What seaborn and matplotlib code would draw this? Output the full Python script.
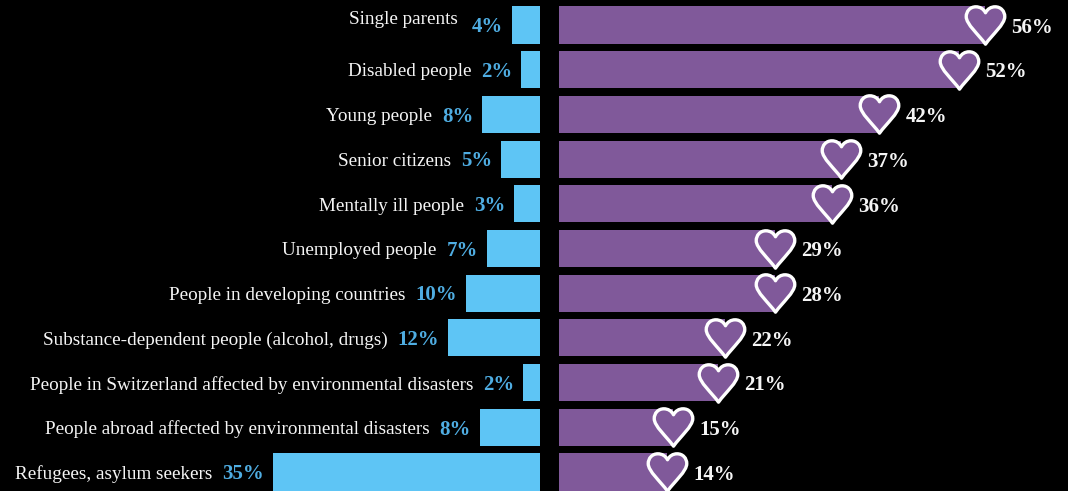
import matplotlib
matplotlib.use("Agg")
import matplotlib.pyplot as plt
from matplotlib.path import Path
import seaborn as sns

categories = ["Single parents", "Disabled people", "Young people", "Senior citizens",
              "Mentally ill people", "Unemployed people", "People in developing countries",
              "Substance-dependent people (alcohol, drugs)",
              "People in Switzerland affected by environmental disasters",
              "People abroad affected by environmental disasters",
              "Refugees, asylum seekers"]
left_labels = ["4%", "2%", "8%", "5%", "3%", "7%", "10%", "12%", "2%", "8%", "35%"]
right_labels = ["56%", "52%", "42%", "37%", "36%", "29%", "28%", "22%", "21%", "15%", "14%"]
# bar lengths as measured on the picture (the drawing is not strictly to scale)
left_values = [3.7, 2.5, 7.6, 5.1, 3.4, 7.0, 9.7, 12.1, 2.2, 7.9, 35.1]
right_values = [56.0, 52.6, 42.1, 37.1, 35.9, 28.4, 28.4, 21.8, 20.9, 15.0, 14.2]

BLUE, BLUE_TEXT, PURPLE, WHITE = "#5EC5F5", "#4FADE2", "#80599A", "#F5F5F5"
SERIF = "Liberation Serif"
W, H = 1068, 491
PX = 7.6          # pixels per percentage point
PITCH, FIRST = 44.7, 25.0

sns.set_theme(style="dark", rc={"figure.facecolor": "black", "axes.facecolor": "black"})
plt.rcParams["font.family"] = [SERIF, "DejaVu Serif"]

heart = Path(
    [(0, .66), (-.1, .86), (-.28, .97), (-.5, .97), (-.8, .97), (-1, .74), (-1, .46),
     (-1, .06), (-.36, -.46), (0, -.97), (.36, -.46), (1, .06), (1, .46),
     (1, .74), (.8, .97), (.5, .97), (.28, .97), (.1, .86), (0, .66), (0, .66)],
    [Path.MOVETO] + [Path.CURVE4] * 18 + [Path.CLOSEPOLY])

fig = plt.figure(figsize=(W / 100, H / 100), dpi=100)
ax_l = fig.add_axes([0, 0, 540 / W, 1])
ax_r = fig.add_axes([559 / W, 0, (W - 559) / W, 1])

sns.barplot(x=left_values, y=categories, orient="h", color=BLUE, saturation=1,
            width=0.83, linewidth=0, ax=ax_l)
sns.barplot(x=right_values, y=categories, orient="h", color=PURPLE, saturation=1,
            width=0.83, linewidth=0, ax=ax_r)
sns.scatterplot(x=right_values, y=categories, marker=heart, s=770, color=PURPLE,
                edgecolor="white", linewidth=2.4, zorder=5, ax=ax_r, clip_on=False,
                joinstyle="round")

ylim = ((H - FIRST) / PITCH, -FIRST / PITCH)
ax_l.set(xlim=(540 / PX, 0), ylim=ylim)
ax_r.set(xlim=(0, (W - 559) / PX), ylim=ylim)
ax_l.axis("off")
ax_r.axis("off")

for i, cat in enumerate(categories):
    pct = ax_l.annotate(left_labels[i], xy=(left_values[i], i), xytext=(-6.5, -1.6),
                        textcoords="offset points", ha="right", va="center",
                        color=BLUE_TEXT, fontsize=15, fontweight="bold", family=SERIF)
    # the first label sits higher and further left in the original
    dx, dy = (-10, 5.5) if i == 0 else (-7, 0)
    ax_l.annotate(cat, xy=(0, 0.5), xycoords=pct, xytext=(dx, dy),
                  textcoords="offset points", ha="right", va="center",
                  color=WHITE, fontsize=13.8, family=SERIF)
    ax_r.annotate(right_labels[i], xy=(right_values[i], i), xytext=(19, -2),
                  textcoords="offset points", ha="left", va="center",
                  color=WHITE, fontsize=15, fontweight="bold", family=SERIF, zorder=6)

fig.savefig("out.png", dpi=100, facecolor="black")
